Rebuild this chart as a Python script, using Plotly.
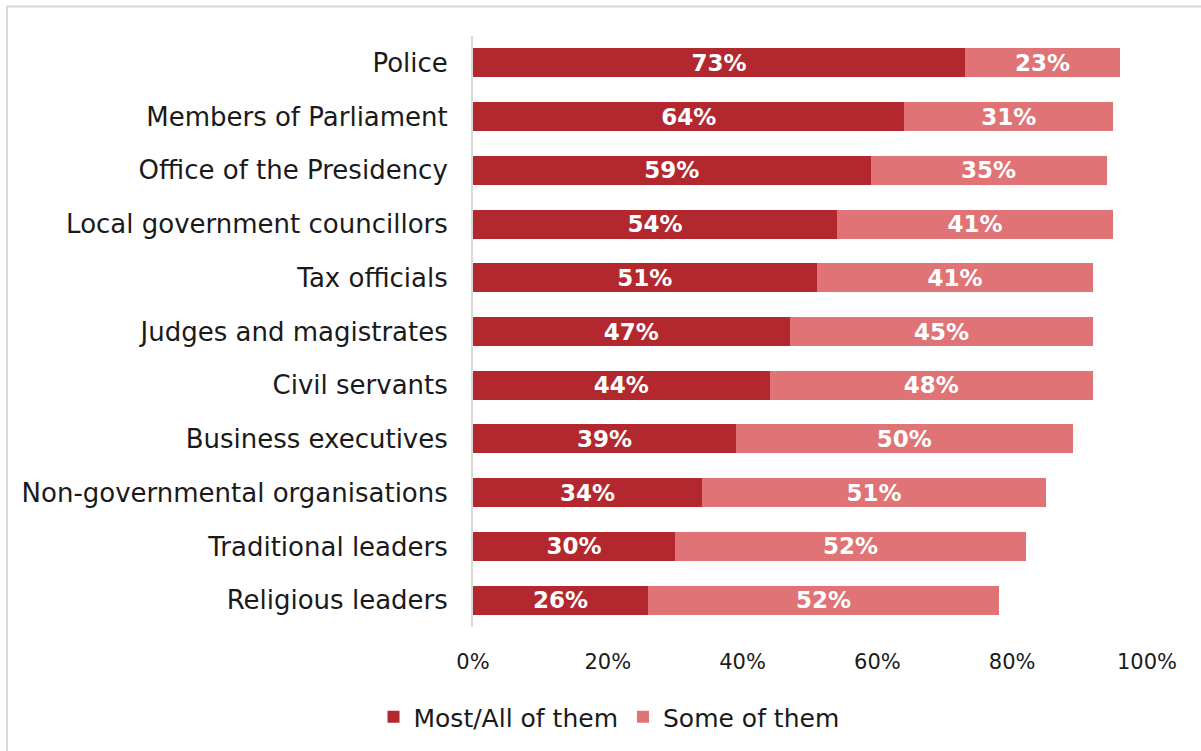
import plotly.graph_objects as go

categories = [
    "Police",
    "Members of Parliament",
    "Office of the Presidency",
    "Local government councillors",
    "Tax officials",
    "Judges and magistrates",
    "Civil servants",
    "Business executives",
    "Non-governmental organisations",
    "Traditional leaders",
    "Religious leaders",
]
most_all = [73, 64, 59, 54, 51, 47, 44, 39, 34, 30, 26]
some = [23, 31, 35, 41, 41, 45, 48, 50, 51, 52, 52]
series_names = ["Most/All of them", "Some of them"]
tick_values = [0, 20, 40, 60, 80, 100]
tick_labels = ["0%", "20%", "40%", "60%", "80%", "100%"]

DARK = "#b3282e"
LIGHT = "#e07375"
FONT = "DejaVu Sans"

W, H = 1201, 751
L, R, T, B = 473, 54, 36, 123

fig = go.Figure()
for name, vals, col in [(series_names[0], most_all, DARK), (series_names[1], some, LIGHT)]:
    fig.add_trace(go.Bar(
        y=categories, x=vals, name=name, orientation="h",
        marker=dict(color=col, line=dict(width=0)),
        text=[f"{v}%" for v in vals], textposition="inside",
        insidetextanchor="middle", constraintext="none",
        textfont=dict(family=FONT, size=23, color="white", weight="bold"),
        hoverinfo="skip",
    ))

pw = W - L - R
ph = H - T - B


def px_to_paper_y(py):
    return (T + ph - py) / ph


# light frame around the chart area
fig.add_shape(type="rect", xref="paper", yref="paper",
              x0=(7 - L) / pw, x1=(W + 20 - L) / pw,
              y0=px_to_paper_y(H + 20), y1=px_to_paper_y(6.5),
              line=dict(color="#d9d9d9", width=2), fillcolor="rgba(0,0,0,0)", layer="below")

fig.update_layout(
    width=W, height=H,
    margin=dict(l=L, r=R, t=T, b=B),
    barmode="stack", bargap=0.46,
    uniformtext=dict(mode=False),
    plot_bgcolor="white", paper_bgcolor="white",
    font=dict(family=FONT, color="#1a1a1a"),
    showlegend=True,
    legend=dict(orientation="h", x=(609 - L) / pw, xanchor="center",
                y=px_to_paper_y(717), yanchor="middle",
                font=dict(size=25, family=FONT, color="#1a1a1a"),
                itemwidth=30, traceorder="normal"),
    xaxis=dict(range=[0, 100], tickvals=tick_values, ticktext=tick_labels,
               showgrid=False, zeroline=False, showline=False,
               tickfont=dict(size=21, family=FONT, color="#1a1a1a"),
               ticklabelstandoff=20, fixedrange=True),
    yaxis=dict(autorange="reversed", showgrid=False, zeroline=False,
               showline=True, linecolor="#d9d9d9", linewidth=2,
               tickfont=dict(size=26, family=FONT, color="#1a1a1a"),
               ticklabelstandoff=18, ticks=""),
)

fig.write_html("out.html")
